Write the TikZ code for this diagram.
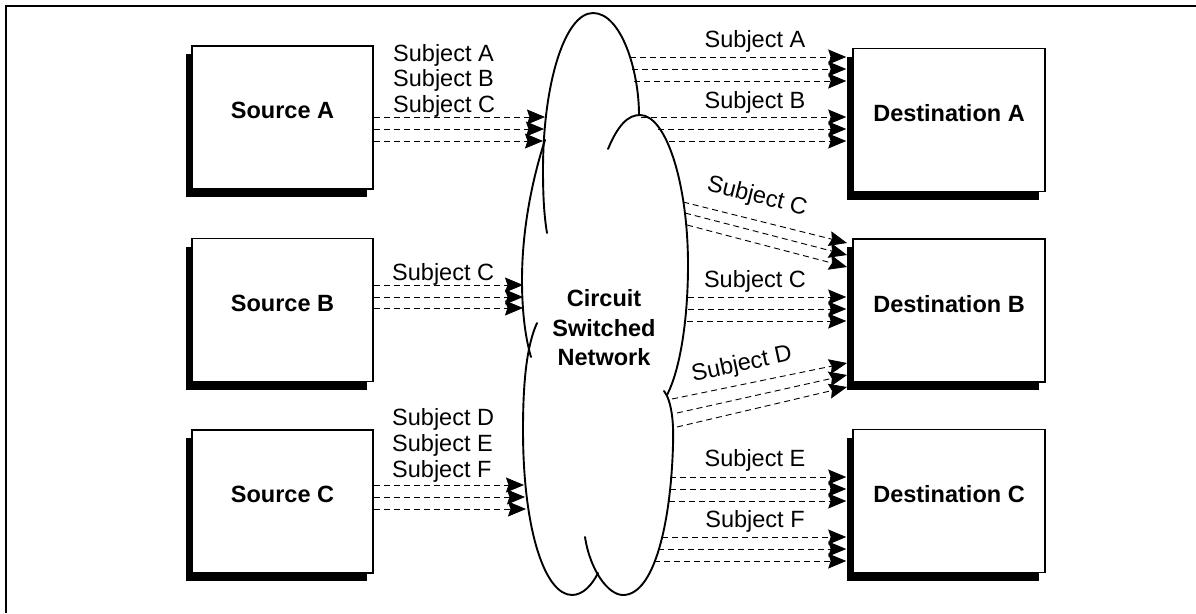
\documentclass[tikz,border=0pt]{standalone}
\usepackage{fontspec}
\setmainfont{Liberation Sans}
\usetikzlibrary{arrows.meta,shadows}
\begin{document}
\begin{tikzpicture}[x=1pt,y=-1pt,
  box/.style={draw, line width=1.6pt, fill=white, minimum width=181pt, minimum height=143pt,
    text depth=14pt, font=\fontsize{23.5}{28}\selectfont\bfseries,
    drop shadow={shadow xshift=-6pt, shadow yshift=-8pt, fill=black, opacity=1}},
  dbox/.style={box, minimum width=192pt},
  lbl/.style={font=\fontsize{23.5}{26}\selectfont, inner sep=0pt},
  flow/.style={line width=0.9pt, dash pattern=on 6pt off 4pt,
    -{Stealth[length=18pt,width=15pt,inset=2.5pt,fill=black,line width=0.8pt]}},
  cloudline/.style={line width=1.9pt, line cap=round}]
\useasboundingbox (0,0) rectangle (1196,613);
\draw[line width=2pt] (1196,6) -- (6,6) -- (6,613);

% boxes
\node[box] (srcA) at (282.5,117.5) {Source A};
\node[box] (srcB) at (282.5,310) {Source B};
\node[box] (srcC) at (282.5,501.5) {Source C};
\node[dbox] (dstA) at (949,120) {Destination A};
\node[dbox] (dstB) at (949,310.5) {Destination B};
\node[dbox] (dstC) at (949,501) {Destination C};

% cloud
\draw[cloudline] (547,233) .. controls (544,215) and (543,195) .. (543,170)
  .. controls (543,83) and (565,13) .. (593,13)
  .. controls (621,13) and (639,70) .. (639,115);
\draw[cloudline] (608,149) .. controls (618,125) and (628,115) .. (640,115)
  .. controls (666,115) and (688,183) .. (688,265)
  .. controls (688,320) and (680,370) .. (667,395);
\draw[cloudline] (664,391) .. controls (671,400) and (674,420) .. (673,445)
  .. controls (671,520) and (655,595) .. (623,595)
  .. controls (608,595) and (590,570) .. (585,537);
\draw[cloudline] (537,323) .. controls (527,345) and (523,380) .. (523,430)
  .. controls (523,530) and (545,595) .. (572,595)
  .. controls (583,595) and (592,585) .. (598,573);
\draw[cloudline] (545,140) .. controls (532,180) and (522,230) .. (522,280)
  .. controls (522,315) and (526,340) .. (531,357);
\node[font=\fontsize{23.5}{29.5}\selectfont\bfseries, align=center] (net) at (604,328) {Circuit\\Switched\\Network};

% source arrows
\foreach \y/\x [count=\i] in {117/545,129/544,141/543}
  {\coordinate (inA\i) at (\x,\y); \draw[flow] (srcA.east |- inA\i) -- (inA\i);}
\foreach \y/\x [count=\i] in {285/523,297/523,308/523}
  {\coordinate (inB\i) at (\x,\y); \draw[flow] (srcB.east |- inB\i) -- (inB\i);}
\foreach \y/\x [count=\i] in {485/524,497/525,509/526}
  {\coordinate (inC\i) at (\x,\y); \draw[flow] (srcC.east |- inC\i) -- (inC\i);}

% destination arrows
\foreach \y/\x [count=\i] in {57/630,69/632,81/634,117/641,129/658,141/669}
  {\coordinate (oA\i) at (\x,\y); \draw[flow] (oA\i) -- ([xshift=-6pt]dstA.west |- oA\i);}
\foreach \y/\x [count=\i] in {297/688,309/688,321/687}
  {\coordinate (oB\i) at (\x,\y); \draw[flow] (oB\i) -- ([xshift=-6pt]dstB.west |- oB\i);}
\foreach \y/\x [count=\i] in {477/670,489/670,501/669,537/662,549/658,561/654}
  {\coordinate (oC\i) at (\x,\y); \draw[flow] (oC\i) -- ([xshift=-6pt]dstC.west |- oC\i);}
\foreach \sx/\sy/\ey [count=\i] in {683/202/243,685/213/255,687/225/267}
  {\coordinate (sC\i) at (\sx,\sy); \coordinate (eC\i) at (847,\ey); \draw[flow] (sC\i) -- (eC\i);}
\foreach \sx/\sy/\ey [count=\i] in {672/399/363,677/413/375,677/427/387}
  {\coordinate (sD\i) at (\sx,\sy); \coordinate (eD\i) at (847,\ey); \draw[flow] (sD\i) -- (eD\i);}

% labels
\node[lbl, anchor=base west] (la1) at (393,61) {Subject A};
\node[lbl, anchor=base west] (la2) at (393,86) {Subject B};
\node[lbl, anchor=base west] (la3) at (393,112) {Subject C};
\node[lbl, anchor=base west] (lb1) at (392,280) {Subject C};
\node[lbl, anchor=base west] (lc1) at (392,425) {Subject D};
\node[lbl, anchor=base west] (lc2) at (392,451) {Subject E};
\node[lbl, anchor=base west] (lc3) at (392,477) {Subject F};
\node[lbl, anchor=base] (ra1) at (755,47) {Subject A};
\node[lbl, anchor=base] (ra2) at (755,108) {Subject B};
\node[lbl, rotate=-14] (rb1) at (757,197) {Subject C};
\node[lbl, anchor=base] (rb2) at (755,287) {Subject C};
\node[lbl, rotate=12] (rb3) at (742,365) {Subject D};
\node[lbl, anchor=base] (rc1) at (755,466) {Subject E};
\node[lbl, anchor=base] (rc2) at (755,527) {Subject F};
\end{tikzpicture}
\end{document}
